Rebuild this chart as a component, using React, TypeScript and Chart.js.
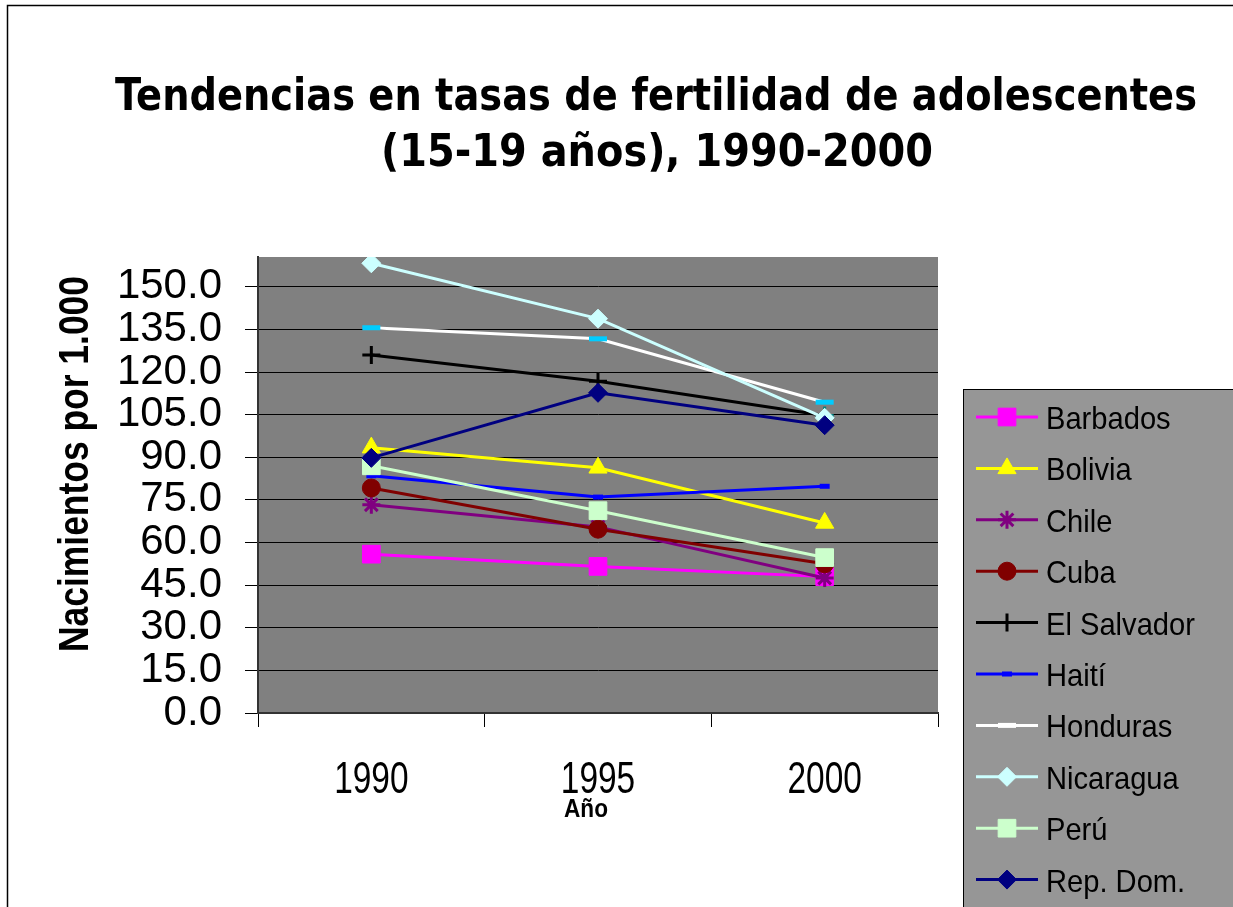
import React, { useEffect, useRef } from 'react';
import { Chart, registerables } from 'chart.js';
import { drawPoint } from 'chart.js/helpers';

Chart.register(...registerables);

// ---------- data ----------
const years = ['1990', '1995', '2000'];
const titleLines = ['Tendencias en tasas de fertilidad de adolescentes', '(15-19 años), 1990-2000'];
const yAxisTitle = 'Nacimientos por 1.000';
const xAxisTitle = 'Año';
const countries = ['Barbados', 'Bolivia', 'Chile', 'Cuba', 'El Salvador', 'Haití', 'Honduras', 'Nicaragua', 'Perú', 'Rep. Dom.'];

const barbados = [55.9, 51.6, 48.0];
const bolivia = [93.4, 86.3, 66.9];
const chile = [73.3, 65.5, 47.5];
const cuba = [79.2, 64.7, 52.5];
const elSalvador = [126.0, 116.8, 104.7];
const haiti = [83.5, 76.0, 79.8];
const honduras = [135.6, 131.7, 109.4];
const nicaragua = [158.3, 138.8, 103.9];
const peru = [87.0, 71.2, 54.7];
const repDom = [89.8, 112.7, 101.3];

const seriesValues = [barbados, bolivia, chile, cuba, elSalvador, haiti, honduras, nicaragua, peru, repDom];

const yStep = 15;
const yMax = 160.5;

// ---------- styles ----------
type Sty = { line: string; pt: string | string[]; legendPt?: string; style: string; r: number; bw: number; fill: boolean };
const styles: Sty[] = [
  { line: '#ff00ff', pt: '#ff00ff', style: 'rect', r: 12.5, bw: 1, fill: true },
  { line: '#ffff00', pt: '#ffff00', style: 'triangle', r: 10.5, bw: 1, fill: true },
  { line: '#800080', pt: '#800080', style: 'star', r: 9, bw: 3, fill: false },
  { line: '#800000', pt: '#800000', style: 'circle', r: 9, bw: 1, fill: true },
  { line: '#000000', pt: ['#000000', '#000000', '#008080'], legendPt: '#000000', style: 'cross', r: 9, bw: 3, fill: false },
  { line: '#0000ff', pt: '#0000ff', style: 'line', r: 5, bw: 5, fill: false },
  { line: '#ffffff', pt: '#00ccff', legendPt: '#ffffff', style: 'line', r: 9, bw: 5, fill: false },
  { line: '#ccffff', pt: '#ccffff', style: 'rectRot', r: 9.5, bw: 1, fill: true },
  { line: '#ccffcc', pt: '#ccffcc', style: 'rect', r: 12.5, bw: 1, fill: true },
  { line: '#000080', pt: '#000080', style: 'rectRot', r: 9.5, bw: 1, fill: true },
];

function drawScaledText(ctx: CanvasRenderingContext2D, text: string, cx: number, baseline: number, font: string, targetWidth: number | null, sx?: number) {
  ctx.save();
  ctx.font = font;
  const w = ctx.measureText(text).width;
  const s = targetWidth ? targetWidth / w : (sx || 1);
  ctx.translate(cx, baseline);
  ctx.scale(s, 1);
  ctx.textAlign = 'center';
  ctx.textBaseline = 'alphabetic';
  ctx.fillText(text, 0, 0);
  ctx.restore();
}

const decorPlugin = {
  id: 'decor',
  beforeDraw(chart: any) {
    const { ctx, chartArea, width, height } = chart;
    ctx.save();
    ctx.fillStyle = '#ffffff';
    ctx.fillRect(0, 0, width, height);
    // outer frame
    ctx.strokeStyle = '#000000';
    ctx.lineWidth = 1.5;
    ctx.beginPath();
    ctx.moveTo(width + 2, 5.5);
    ctx.lineTo(7.5, 5.5);
    ctx.lineTo(7.5, height + 2);
    ctx.stroke();
    // plot background
    ctx.fillStyle = '#808080';
    ctx.fillRect(chartArea.left, chartArea.top, chartArea.right - chartArea.left, chartArea.bottom - chartArea.top);
    ctx.restore();
  },
  afterDraw(chart: any) {
    const { ctx } = chart;
    ctx.save();
    ctx.fillStyle = '#000000';
    // title
    drawScaledText(ctx, titleLines[0], 656, 110, 'bold 44px "DejaVu Sans", Verdana, sans-serif', 1082);
    drawScaledText(ctx, titleLines[1], 657, 166, 'bold 44px "DejaVu Sans", Verdana, sans-serif', 552);
    // x tick labels
    const xs = chart.scales.x;
    years.forEach((y, i) => {
      drawScaledText(ctx, y, xs.getPixelForValue(i), 793, '44px "Liberation Sans", Arial, sans-serif', null, 0.76);
    });
    // x title
    drawScaledText(ctx, xAxisTitle, xs.getPixelForValue(1) - 12, 817, 'bold 25px "Liberation Sans", Arial, sans-serif', 44);
    // y title
    ctx.save();
    ctx.translate(73, 464);
    ctx.rotate(-Math.PI / 2);
    ctx.font = 'bold 42px "Liberation Sans", Arial, sans-serif';
    const w = ctx.measureText(yAxisTitle).width;
    ctx.scale(376 / w, 1);
    ctx.textAlign = 'center';
    ctx.textBaseline = 'alphabetic';
    ctx.fillText(yAxisTitle, 0, 15);
    ctx.restore();

    // legend
    const lx = 963.5, ly = 389.5;
    ctx.fillStyle = '#969696';
    ctx.fillRect(lx, ly, 400, 600);
    ctx.strokeStyle = '#000000';
    ctx.lineWidth = 1;
    ctx.strokeRect(lx, ly, 400, 600);
    chart.data.datasets.forEach((ds: any, i: number) => {
      const st = styles[i];
      const cy = 417 + i * 51.4;
      ctx.strokeStyle = st.line;
      ctx.lineWidth = 3;
      ctx.beginPath();
      ctx.moveTo(976, cy);
      ctx.lineTo(1038, cy);
      ctx.stroke();
      const pc = st.legendPt || (st.pt as string);
      ctx.fillStyle = st.fill ? pc : 'rgba(0,0,0,0)';
      ctx.strokeStyle = pc;
      ctx.lineWidth = st.bw;
      drawPoint(ctx, { pointStyle: st.style, radius: st.r, borderWidth: st.bw, rotation: 0 } as any, 1007, cy);
      ctx.fillStyle = '#000000';
      ctx.save();
      ctx.font = '32px "Liberation Sans", Arial, sans-serif';
      ctx.translate(1046, cy + 12);
      ctx.scale(0.91, 1);
      ctx.textAlign = 'left';
      ctx.textBaseline = 'alphabetic';
      ctx.fillText(ds.label, 0, 0);
      ctx.restore();
    });
    ctx.restore();
  },
};

export default function App() {
  const canvasRef = useRef<HTMLCanvasElement | null>(null);

  useEffect(() => {
    if (!canvasRef.current) return;
    const n = countries.length;
    const datasets = countries.map((name, i) => {
      const st = styles[i];
      return {
        label: name,
        data: seriesValues[i],
        borderColor: st.line,
        borderWidth: 3,
        pointStyle: st.style,
        pointRadius: st.r,
        pointHoverRadius: st.r,
        pointBorderWidth: st.bw,
        pointBorderColor: st.pt,
        pointBackgroundColor: st.fill ? st.pt : 'rgba(0,0,0,0)',
        fill: false,
        tension: 0,
        order: n - i,
      };
    });

    const chart = new Chart(canvasRef.current, {
      type: 'line',
      data: { labels: years, datasets },
      plugins: [decorPlugin],
      options: {
        responsive: false,
        animation: false,
        events: [],
        layout: { padding: { top: 257, right: 295, bottom: 94, left: 0 } },
        plugins: {
          legend: { display: false },
          title: { display: false },
          tooltip: { enabled: false },
        },
        scales: {
          x: {
            type: 'category',
            offset: true,
            grid: {
              offset: true,
              drawOnChartArea: false,
              drawTicks: true,
              tickLength: 14,
              color: '#000000',
              lineWidth: 1,
            },
            border: { display: true, color: '#333333', width: 2 },
            ticks: { display: false },
            afterFit: (s: any) => { s.height = 100; },
          },
          y: {
            type: 'linear',
            min: 0,
            max: yMax,
            grid: {
              color: '#000000',
              lineWidth: 1,
              drawTicks: true,
              tickLength: 13,
            },
            border: { display: true, color: '#333333', width: 2 },
            ticks: {
              stepSize: yStep,
              includeBounds: false,
              autoSkip: false,
              padding: 23,
              color: '#000000',
              font: { family: '"Liberation Sans", Arial, sans-serif', size: 42 },
              callback: (v: any) => Number(v).toFixed(1),
            },
            afterBuildTicks: (s: any) => {
              s.ticks = s.ticks.filter((t: any) => t.value % yStep === 0 && t.value <= 150);
            },
            afterFit: (s: any) => { s.width = 258; },
          },
        },
      },
    });
    return () => chart.destroy();
  }, []);

  return (
    <div style={{ position: 'absolute', left: 0, top: 0, width: 1233, height: 907, overflow: 'hidden' }}>
      <canvas ref={canvasRef} width={1233} height={907} style={{ display: 'block', width: 1233, height: 907 }} />
    </div>
  );
}
